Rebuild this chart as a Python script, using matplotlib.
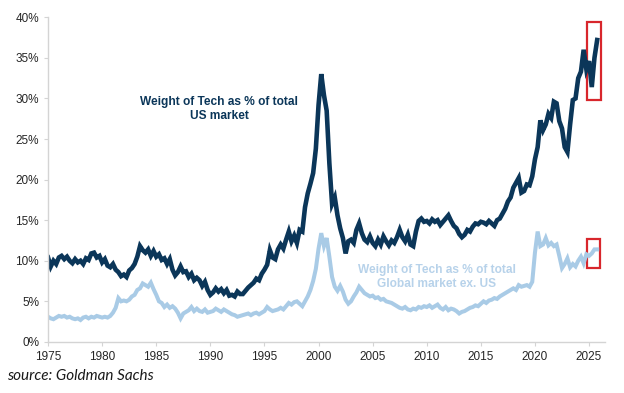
import numpy as np
import matplotlib
matplotlib.use("Agg")
import matplotlib.pyplot as plt
from matplotlib.patches import Rectangle

# quarterly readings, 1975 Q1 .. 2025 Q4
start_year = 1975
us_weight = [
    10.4, 9.3, 10.0, 9.6,
    10.4, 10.6, 10.2, 10.5,
    10.0, 9.7, 10.2, 9.8,
    10.0, 9.6, 10.3, 10.1,
    10.9, 11.0, 10.4, 10.6,
    9.8, 10.2, 9.4, 9.2,
    9.6, 8.9, 8.6, 8.1,
    8.3, 8.0, 8.8, 9.1,
    9.6, 10.5, 11.8, 11.3,
    11.0, 11.4, 10.6, 11.2,
    10.5, 10.8, 10.1, 10.3,
    9.6, 10.2, 8.9, 8.2,
    8.6, 9.3, 8.6, 8.7,
    8.0, 8.4, 7.6, 7.9,
    7.6, 6.9, 7.4, 6.4,
    5.8, 6.1, 6.6, 6.2,
    6.5, 6.0, 6.4, 5.7,
    5.8, 5.6, 6.2, 5.9,
    5.9, 6.3, 6.7, 7.0,
    7.3, 7.8, 7.6, 8.4,
    8.9, 9.5, 11.3, 10.4,
    10.2, 11.4, 12.0, 11.5,
    12.6, 13.6, 12.4, 13.1,
    12.2, 13.8, 13.6, 16.6,
    18.3, 19.5, 20.8, 23.8,
    29.2, 33.0, 30.4, 28.5,
    22.0, 17.0, 17.8, 15.6,
    14.0, 12.8, 10.9, 12.4,
    12.6, 12.2, 13.8, 14.6,
    13.4, 12.6, 12.3, 13.0,
    12.2, 11.8, 12.6, 12.0,
    13.0, 12.4, 11.9, 12.5,
    12.2, 12.9, 13.8, 12.9,
    12.4, 13.2, 12.0, 11.8,
    13.6, 14.9, 15.2, 14.8,
    14.9, 14.6, 15.1, 14.8,
    15.0, 14.4, 14.8, 15.2,
    15.6, 14.9, 14.3, 14.0,
    13.3, 12.9, 13.2, 13.8,
    13.6, 14.2, 14.6, 14.5,
    14.8, 14.7, 14.5, 14.9,
    14.6, 14.3, 15.0, 15.2,
    15.8, 16.4, 17.3, 17.8,
    19.0, 19.6, 20.2, 18.4,
    18.6, 19.4, 19.3, 20.4,
    22.5, 24.0, 27.3, 26.1,
    26.8, 28.1, 27.6, 29.6,
    29.4, 27.2, 26.3, 24.0,
    23.4, 26.8, 29.8, 30.0,
    32.5, 33.3, 36.0, 33.6,
    34.6, 31.4, 35.0, 37.2,
]

global_exus_weight = [
    3.1, 2.9, 2.8, 3.0,
    3.2, 3.1, 3.2, 3.0,
    3.1, 2.9, 2.8, 2.9,
    2.7, 3.0, 3.1, 2.9,
    3.1, 3.0, 3.2, 3.1,
    3.0, 3.1, 3.0, 3.2,
    3.6, 4.2, 5.4, 5.0,
    5.1, 5.0, 5.2, 5.6,
    5.8, 6.4, 6.6, 7.2,
    7.0, 6.8, 7.3, 6.5,
    5.8, 5.0, 4.8, 4.3,
    4.6, 4.2, 4.4, 4.1,
    3.6, 2.9, 3.5, 3.7,
    3.9, 4.3, 3.8, 4.1,
    3.8, 3.7, 4.0, 3.6,
    3.7, 3.8, 4.1, 3.9,
    3.7, 4.0, 3.8, 3.6,
    3.4, 3.3, 3.1, 3.2,
    3.3, 3.4, 3.5, 3.3,
    3.5, 3.6, 3.4, 3.6,
    3.8, 4.3, 4.0, 3.8,
    3.9, 4.0, 4.2, 4.0,
    4.4, 4.8, 4.6, 4.9,
    5.0, 4.7, 4.4, 5.0,
    5.6, 6.4, 7.5, 9.0,
    11.5, 13.4, 11.8, 12.8,
    10.5, 8.0, 6.8, 6.3,
    6.9, 6.2, 5.2, 4.7,
    5.0, 5.6, 6.1, 6.8,
    6.4, 6.0, 5.8, 5.6,
    5.7, 5.4, 5.5, 5.2,
    5.3, 5.0, 4.9, 4.8,
    4.6, 4.4, 4.2, 4.1,
    4.3, 4.0, 3.9, 4.1,
    4.0, 4.3, 4.2, 4.4,
    4.3, 4.5, 4.2, 4.4,
    4.6, 4.2, 4.0, 4.3,
    3.9, 4.1, 4.0, 3.8,
    3.5, 3.7, 3.8, 4.0,
    4.2, 4.3, 4.5, 4.4,
    4.7, 5.0, 4.8, 5.1,
    5.2, 5.4, 5.3, 5.6,
    5.8, 6.0, 6.2, 6.4,
    6.6, 6.4, 7.0, 6.8,
    6.9, 7.0, 6.8, 7.4,
    11.0, 13.6, 11.8, 12.0,
    12.8, 11.9, 12.2, 11.8,
    12.0, 10.6, 9.1, 9.6,
    10.3, 9.2, 9.6, 9.3,
    10.0, 10.5, 9.7, 10.8,
    10.6, 10.9, 11.4, 11.4,
]

year_ticks = [1975, 1980, 1985, 1990, 1995, 2000, 2005, 2010, 2015, 2020, 2025]
pct_ticks = [0, 5, 10, 15, 20, 25, 30, 35, 40]

dates = start_year + np.arange(len(us_weight)) / 4.0

navy = '#0b3659'
light = '#a9cbe6'
grey = '#d4d4d4'

fig = plt.figure(figsize=(6.24, 3.93), dpi=100)
ax = fig.add_axes([0.077, 0.130, 0.893, 0.826])

ax.plot(dates, global_exus_weight, color=light, lw=2.9, solid_joinstyle='miter')
ax.plot(dates, us_weight, color=navy, lw=3.3, solid_joinstyle='miter')

ax.set_xlim(1975, 2026.5)
ax.set_ylim(0, 40)
ax.set_xticks(year_ticks)
ax.set_yticks(pct_ticks)
ax.set_yticklabels([f'{p}%' for p in pct_ticks])

for s in ['top', 'right']:
    ax.spines[s].set_visible(False)
for s in ['left', 'bottom']:
    ax.spines[s].set_color(grey)
    ax.spines[s].set_linewidth(1.0)
ax.tick_params(colors=grey, length=3, width=0.8, labelcolor='#262626',
               labelsize=8.5)
for lab in ax.get_xticklabels() + ax.get_yticklabels():
    lab.set_family('Liberation Sans')

ax.text(1990.8, 28.7, 'Weight of Tech as % of total\nUS market', ha='center',
        va='center', fontsize=8.6, fontweight='bold', color=navy,
        family='Liberation Sans', linespacing=1.2)
ax.text(2010.9, 8.0, 'Weight of Tech as % of total\nGlobal market ex. US',
        ha='center', va='center', fontsize=8.6, fontweight='bold',
        color='#b7d2ea', family='Liberation Sans', linespacing=1.2)

red = '#d8262c'
ax.add_patch(Rectangle((2024.8, 29.8), 1.3, 9.6, fill=False, ec=red, lw=1.6,
                       clip_on=False))
ax.add_patch(Rectangle((2024.8, 9.1), 1.2, 3.6, fill=False, ec=red, lw=1.6,
                       clip_on=False))

fig.text(0.011, 0.042, 'source: Goldman Sachs', fontsize=11, style='italic',
         family='Lato', color='#1a1a1a', va='center')

fig.savefig('out.png', dpi=100)
